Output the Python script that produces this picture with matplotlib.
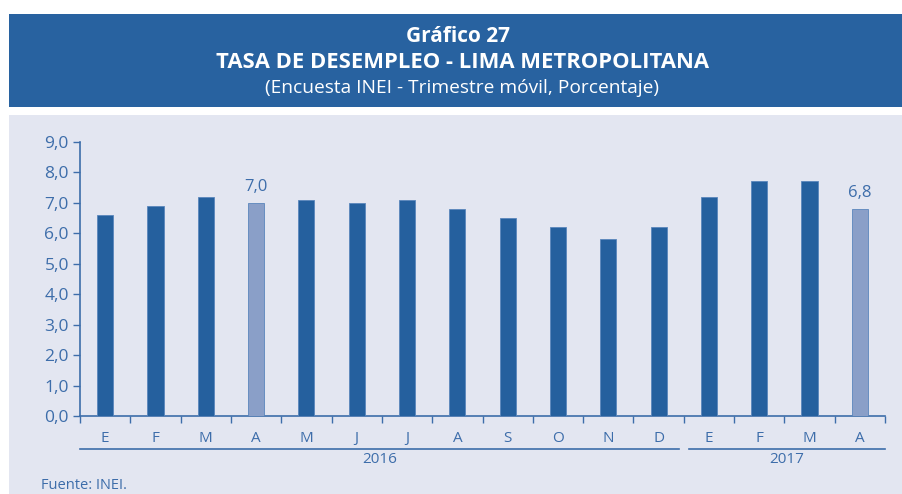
import matplotlib
matplotlib.use('Agg')
import matplotlib.pyplot as plt
from matplotlib import font_manager
from matplotlib.patches import Rectangle
import matplotlib.transforms as mtransforms

# fuente condensada si existe
nombres = {f.name for f in font_manager.fontManager.ttflist}
fam = 'Liberation Sans Narrow' if 'Liberation Sans Narrow' in nombres else 'Open Sans'
plt.rcParams['font.family'] = [fam, 'DejaVu Sans']

# datos
meses = ['E', 'F', 'M', 'A', 'M', 'J', 'J', 'A', 'S', 'O', 'N', 'D', 'E', 'F', 'M', 'A']
tasa = [6.6, 6.9, 7.2, 7.0, 7.1, 7.0, 7.1, 6.8, 6.5, 6.2, 5.8, 6.2, 7.2, 7.7, 7.7, 6.8]
destacados = [3, 15]
anios = ['2016', '2017']

azul = '#25609E'
azul_claro = '#8A9FC8'
texto = '#3D6DAA'
fondo = '#E3E6F1'

fig = plt.figure(figsize=(9.03, 4.94), dpi=100)
W, H = 903, 494

# encabezado y panel
fig.patches.append(Rectangle((9 / W, 1 - 107 / H), 1, 93 / H, transform=fig.transFigure,
                             facecolor='#2862A0', edgecolor='none', zorder=-5))
fig.patches.append(Rectangle((9 / W, 0), 1, 1 - 115 / H, transform=fig.transFigure,
                             facecolor=fondo, edgecolor='none', zorder=-5))
fig.text(458 / W, 1 - 36 / H, 'Gráfico 27', color='white', fontsize=15, fontweight='bold',
         ha='center', va='center')
fig.text(463 / W, 1 - 62 / H, 'TASA DE DESEMPLEO - LIMA METROPOLITANA', color='white',
         fontsize=15.8, fontweight='bold', ha='center', va='center')
fig.text(462 / W, 1 - 88 / H, '(Encuesta INEI - Trimestre móvil, Porcentaje)', color='white',
         fontsize=13.8, ha='center', va='center')

ax = fig.add_axes([80 / W, (H - 416) / H, 805 / W, 274.3 / H])
ax.set_facecolor('none')
ax.set_zorder(2)

x = list(range(len(meses)))
colores = [azul_claro if i in destacados else azul for i in x]
ax.bar(x, tasa, width=0.32, color=colores, edgecolor='#5A86BC', linewidth=0.6, zorder=3)

for i in destacados:
    ax.annotate(f'{tasa[i]:.1f}'.replace('.', ','), (i, tasa[i]), xytext=(0, 11),
                textcoords='offset points', ha='center', va='center', color=texto, fontsize=12)

ax.set_xlim(-0.5, len(meses) - 0.5)
ax.set_ylim(0, 9)
ax.set_yticks(range(0, 10))
ax.set_yticklabels([f'{v},0' for v in range(0, 10)])
ax.set_xticks([i - 0.5 for i in range(len(meses) + 1)])
ax.set_xticklabels([])
ax.set_xticks(x, minor=True)
ax.set_xticklabels(meses, minor=True)
ax.tick_params(axis='x', which='minor', length=0, pad=11, labelsize=11, labelcolor=texto)
ax.tick_params(axis='x', which='major', length=5, color=texto, width=1)
ax.tick_params(axis='y', length=5, color=texto, width=1, labelsize=12.5, labelcolor=texto, pad=3)

for s in ['top', 'right']:
    ax.spines[s].set_visible(False)
for s in ['left', 'bottom']:
    ax.spines[s].set_color(texto)
    ax.spines[s].set_linewidth(1.2)

# llaves de años
trans = mtransforms.blended_transform_factory(ax.transData, ax.transAxes)
tramos = [(-0.5, 11.4), (11.6, 15.5)]
for (a, b), anio in zip(tramos, anios):
    ax.plot([a, b], [-0.12, -0.12], color=texto, lw=1.2, transform=trans, clip_on=False)
    ax.text((a + b) / 2, -0.158, anio, transform=trans, ha='center', va='center',
            color=texto, fontsize=11)

fig.text(41 / W, 1 - 485 / H, 'Fuente: INEI.', color=texto, fontsize=10.5, ha='left', va='center')

fig.savefig('out.png', dpi=100)
